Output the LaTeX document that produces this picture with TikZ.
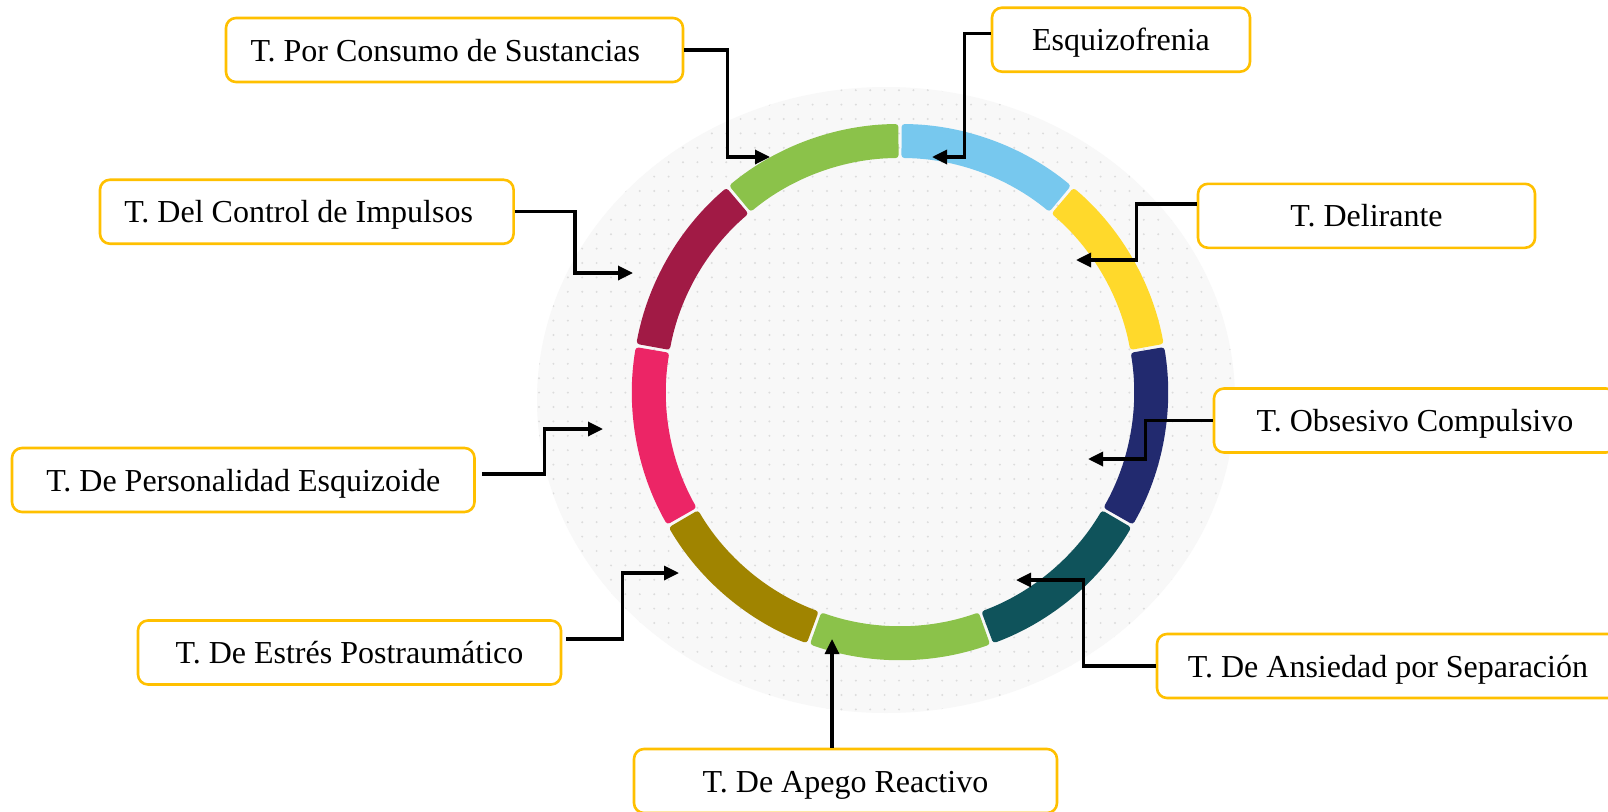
\documentclass[tikz,border=0pt]{standalone}
\usepackage{fontspec}
\setmainfont{Liberation Serif}
\usetikzlibrary{arrows.meta,calc}

\definecolor{boxgold}{HTML}{FFC000}
\definecolor{discfill}{HTML}{F8F8F8}
\definecolor{dotgray}{HTML}{DCDCDC}
\definecolor{ringgreen}{HTML}{8BC24A}
\definecolor{ringblue}{HTML}{77C8EE}
\definecolor{ringyellow}{HTML}{FFD92B}
\definecolor{ringnavy}{HTML}{222A6F}
\definecolor{ringteal}{HTML}{0F535B}
\definecolor{ringolive}{HTML}{A08400}
\definecolor{ringpink}{HTML}{EC2566}
\definecolor{ringmaroon}{HTML}{A11A45}

\tikzset{
  label box/.style={draw=boxgold, line width=2.6pt, rounded corners=10pt,
    fill=white, minimum height=64pt, text height=22pt, text depth=0pt,
    inner sep=0pt, font=\fontsize{32pt}{38pt}\selectfont},
  conn/.style={line width=3.3pt, -{Triangle[length=15pt,width=14pt]}},
}

\begin{document}
\begin{tikzpicture}[x=1pt,y=1pt]
  % page area
  \fill[white] (0,0) rectangle (1608,-811);
  \useasboundingbox (0,0) rectangle (1608,-811);

  % dotted background disc
  \fill[discfill] (886,-400) ellipse [x radius=349, y radius=313];
  \begin{scope}
    \clip (886,-400) ellipse [x radius=349, y radius=313];
    \foreach \i in {0,...,48}
      \foreach \j in {0,...,43}
        \fill[dotgray] ({539+14.4*\i},{-90.2-14.4*\j}) circle (1.1);
  \end{scope}

  % segmented ring
  \coordinate (c) at (900,-392);
  \begin{scope}[shift={(c)}]
    \foreach \a/\b/\col in {90/130/ringgreen, 50/90/ringblue, 10/50/ringyellow,
        -30/10/ringnavy, -70/-30/ringteal, -110/-70/ringgreen,
        -150/-110/ringolive, -190/-150/ringpink, 130/170/ringmaroon}
      \fill[\col, rounded corners=3pt]
        ({\a+0.35}:268) arc[start angle=\a+0.35, end angle=\b-0.35, radius=268]
        -- ({\b-0.35}:234) arc[start angle=\b-0.35, end angle=\a+0.35, radius=234]
        -- cycle;
  \end{scope}

  % label boxes
  \node[label box, minimum width=457pt, text width=408pt, align=flush left, inner xsep=24.5pt]
    (cons) at (454.5,-50) {T. Por Consumo de Sustancias};
  \node[label box, minimum width=258pt] (esq) at (1121,-39.7) {Esquizofrenia};
  \node[label box, minimum width=337pt] (del) at (1366.5,-215.8) {T. Delirante};
  \node[label box, minimum width=402pt] (obs) at (1415,-420.5) {T. Obsesivo Compulsivo};
  \node[label box, minimum width=462pt] (ans) at (1388,-666) {T. De Ansiedad por Separación};
  \node[label box, minimum width=423pt] (ape) at (845.5,-781) {T. De Apego Reactivo};
  \node[label box, minimum width=423pt] (est) at (349.5,-652.5) {T. De Estrés Postraumático};
  \node[label box, minimum width=462.5pt] (szd) at (243.25,-480) {T. De Personalidad Esquizoide};
  \node[label box, minimum width=413.6pt, text width=365pt, align=flush left, inner xsep=24.3pt]
    (imp) at (306.8,-211.75) {T. Del Control de Impulsos};

  % arrow targets on the ring
  \coordinate (t1) at (770,-157);
  \coordinate (t2) at (932,-157);
  \coordinate (t3) at (1076,-260);
  \coordinate (t4) at (1088,-459);
  \coordinate (t5) at (1016,-580);
  \coordinate (t6) at (832,-639);
  \coordinate (t7) at (679,-573);
  \coordinate (t8) at (603,-429);
  \coordinate (t9) at (633,-273);

  % connectors
  \draw[conn] (cons.east) -- ++(43,0) |- (t1);
  \draw[conn] ([yshift=6.4pt]esq.west) -- ++(-26,0) |- (t2);
  \draw[conn] ([yshift=11.75pt]del.west) -- ++(-60,0) |- (t3);
  \draw[conn] (obs.west) -- ++(-67,0) |- (t4);
  \draw[conn] (ans.west) -- ++(-72.5,0) |- (t5);
  \draw[conn] (ape.north -| t6) -- (t6);
  \draw[conn] ([xshift=4pt,yshift=13.5pt]est.east) -- ++(56,0) |- (t7);
  \draw[conn] ([xshift=6pt,yshift=6pt]szd.east) -- ++(62.5,0) |- (t8);
  \draw[conn] (imp.east) -- ++(60,0) |- (t9);
\end{tikzpicture}
\end{document}
